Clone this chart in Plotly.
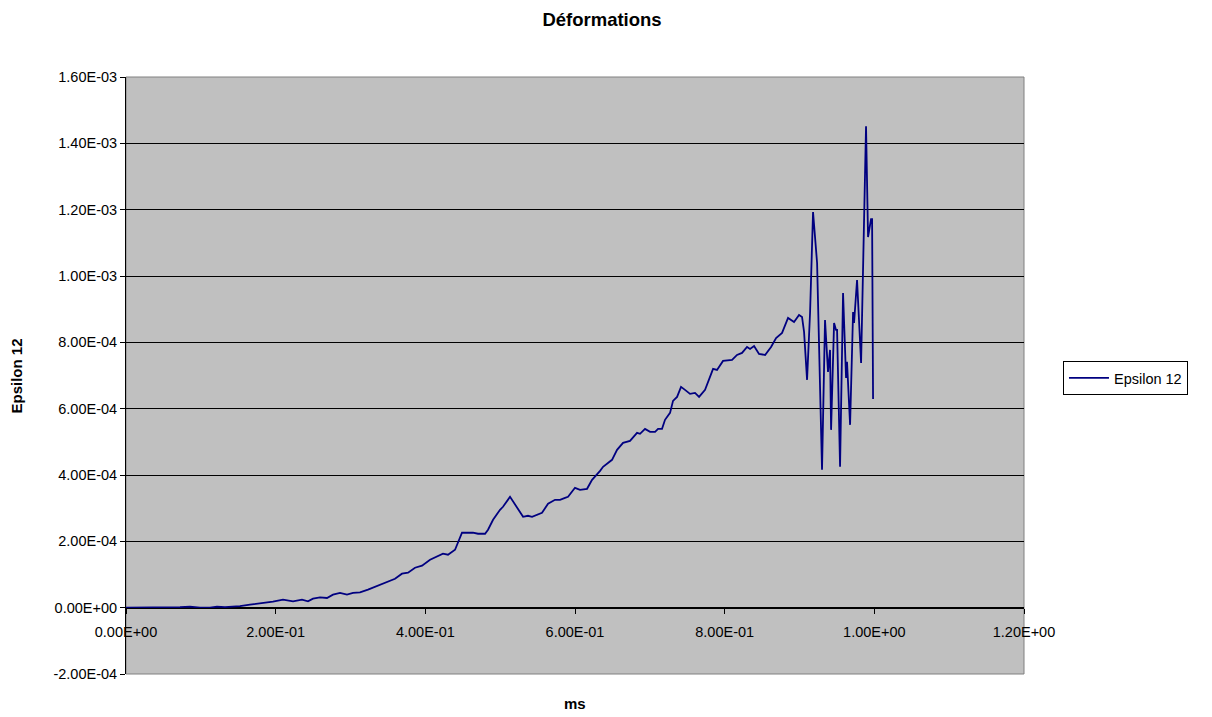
import plotly.graph_objects as go

# Time (ms)
ms = [0.000, 0.0321, 0.0588, 0.0722, 0.0855, 0.0989, 0.1123, 0.1216, 0.1323, 0.1523,
      0.1657, 0.1791, 0.1964, 0.2098, 0.2232, 0.2352, 0.2432, 0.2499, 0.2593, 0.2686,
      0.2766, 0.2860, 0.2953, 0.3034, 0.3127, 0.3234, 0.3394, 0.3595, 0.3688, 0.3769,
      0.3862, 0.3956, 0.4063, 0.4156, 0.4236, 0.4303, 0.4397, 0.4490, 0.4637, 0.4704,
      0.4798, 0.4838, 0.4905, 0.4998, 0.5038, 0.5132, 0.5225, 0.5306, 0.5372, 0.5426,
      0.5559, 0.5640, 0.5733, 0.5800, 0.5867, 0.5907, 0.6000, 0.6067, 0.6161, 0.6228,
      0.6335, 0.6375, 0.6495, 0.6562, 0.6642, 0.6735, 0.6829, 0.6869, 0.6936, 0.7003,
      0.7070, 0.7110, 0.7163, 0.7203, 0.7270, 0.7310, 0.7364, 0.7417, 0.7470, 0.7537,
      0.7604, 0.7658, 0.7738, 0.7845, 0.7898, 0.7978, 0.8099, 0.8165, 0.8232, 0.8299,
      0.8339, 0.8393, 0.8459, 0.8540, 0.8620, 0.8687, 0.8767, 0.8847, 0.8927, 0.8994,
      0.9034, 0.9061, 0.9101, 0.9141, 0.9181, 0.9235, 0.9301, 0.9341, 0.9381, 0.9408,
      0.9422, 0.9462, 0.9488, 0.9502, 0.9542, 0.9582, 0.9622, 0.9635, 0.9676, 0.9716,
      0.9729, 0.9769, 0.9823, 0.9889, 0.9916, 0.9956, 0.9970, 0.9983]

# Epsilon 12 (units of 1e-4)
eps12_e4 = [0.000, 0.000, 0.000, 0.015, 0.030, 0.000, 0.000, 0.030, 0.015, 0.045,
            0.090, 0.120, 0.181, 0.241, 0.190, 0.241, 0.190, 0.271, 0.310, 0.292,
            0.392, 0.443, 0.392, 0.443, 0.461, 0.542, 0.693, 0.873, 1.024, 1.054,
            1.205, 1.265, 1.446, 1.536, 1.626, 1.596, 1.747, 2.259, 2.259, 2.229,
            2.229, 2.349, 2.651, 2.952, 3.042, 3.343, 3.012, 2.741, 2.771, 2.741,
            2.861, 3.132, 3.253, 3.253, 3.313, 3.343, 3.614, 3.554, 3.584, 3.855,
            4.126, 4.247, 4.458, 4.759, 4.970, 5.030, 5.271, 5.241, 5.391, 5.301,
            5.301, 5.391, 5.391, 5.663, 5.873, 6.235, 6.355, 6.657, 6.566, 6.446,
            6.476, 6.355, 6.566, 7.199, 7.168, 7.440, 7.470, 7.620, 7.681, 7.861,
            7.801, 7.891, 7.650, 7.620, 7.861, 8.132, 8.283, 8.735, 8.614, 8.825,
            8.765, 8.313, 6.867, 8.885, 11.928, 10.391, 4.157, 8.675, 7.108, 7.771,
            5.361, 8.584, 8.373, 8.373, 4.247, 9.488, 6.928, 7.410, 5.512, 8.916,
            8.584, 9.879, 7.379, 14.518, 11.175, 11.717, 11.717, 6.295]
eps12 = [v * 1e-4 for v in eps12_e4]

x_ticks = [0.0, 0.2, 0.4, 0.6, 0.8, 1.0, 1.2]
x_ticktext = ["0.00E+00", "2.00E-01", "4.00E-01", "6.00E-01", "8.00E-01", "1.00E+00", "1.20E+00"]
y_ticks = [-2e-4, 0, 2e-4, 4e-4, 6e-4, 8e-4, 1e-3, 1.2e-3, 1.4e-3, 1.6e-3]
y_ticktext = ["-2.00E-04", "0.00E+00", "2.00E-04", "4.00E-04", "6.00E-04", "8.00E-04",
              "1.00E-03", "1.20E-03", "1.40E-03", "1.60E-03"]

font = "Liberation Sans, Arial, sans-serif"
FS = 14.5

fig = go.Figure()
fig.add_trace(go.Scatter(x=ms, y=eps12, mode="lines", name="Epsilon 12",
                         line=dict(color="#000080", width=1.8)))

# page body has an 8px margin: figure is sized/offset to compensate
fig.update_layout(
    width=1204, height=709,
    margin=dict(l=118, r=188, t=69, b=43),
    paper_bgcolor="white", plot_bgcolor="#C0C0C0",
    font=dict(family=font, size=FS, color="black"),
    title=dict(text="<b>Déformations</b>", x=594/1204, xref="container", xanchor="center",
               y=1 - 12/709, yref="container", yanchor="middle",
               font=dict(family=font, size=18.5, color="black")),
    showlegend=True,
    legend=dict(x=1.0434, y=0.4958, xanchor="left", yanchor="middle",
                bgcolor="white", bordercolor="black", borderwidth=1,
                font=dict(family=font, size=FS), itemwidth=40,
                tracegroupgap=0),
    xaxis=dict(range=[0, 1.2], tickvals=x_ticks, ticktext=x_ticktext,
               showgrid=False, zeroline=False, showline=True, linecolor="black", linewidth=1,
               ticks="outside", ticklen=5, tickcolor="black", anchor="free",
               position=1/9, ticklabelstandoff=6,
               tickfont=dict(family=font, size=FS)),
    yaxis=dict(range=[-2e-4, 1.6e-3], tickvals=y_ticks, ticktext=y_ticktext,
               showgrid=True, gridcolor="black", gridwidth=1, zeroline=False,
               showline=True, linecolor="black", linewidth=1,
               ticks="outside", ticklen=5, tickcolor="black",
               tickfont=dict(family=font, size=FS)),
    annotations=[
        dict(text="<b>Epsilon 12</b>", x=-0.1214, y=0.5, xref="paper", yref="paper",
             textangle=-90, showarrow=False, xanchor="center", yanchor="middle",
             font=dict(family=font, size=15)),
        dict(text="<b>ms</b>", x=0.5, y=-0.0486, xref="paper", yref="paper",
             showarrow=False, xanchor="center", yanchor="middle",
             font=dict(family=font, size=15)),
    ],
    shapes=[dict(type="rect", xref="paper", yref="paper", x0=0, x1=1, y0=0, y1=1,
                 line=dict(color="#808080", width=1), layer="below")],
)

fig.write_html("out.html")
